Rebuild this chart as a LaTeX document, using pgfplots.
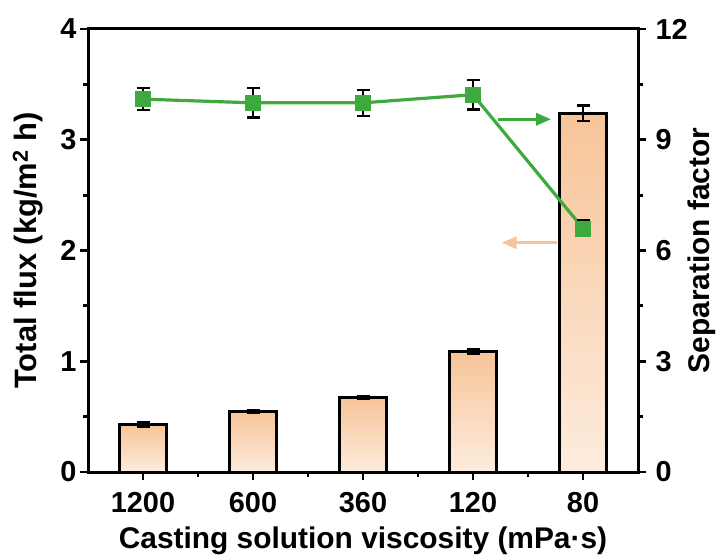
\documentclass[border=0pt]{standalone}
\usepackage{pgfplots}
\pgfplotsset{compat=1.18}
\usetikzlibrary{arrows.meta}
\usepackage{fontspec}
\setmainfont{Liberation Sans}

\definecolor{sgreen}{RGB}{62,170,62}
\definecolor{bartop}{RGB}{247,196,152}
\definecolor{barbot}{RGB}{253,236,222}
\definecolor{arrorange}{RGB}{248,196,156}

\begin{document}
\begin{tikzpicture}
\pgfplotsset{
  every axis/.append style={
    scale only axis, width=550bp, height=443bp,
    xmin=-0.5, xmax=4.5,
    axis line style={line width=3bp},
    tick align=outside,
    major tick length=8bp, minor tick length=5bp,
    every tick/.style={line width=2.8bp, black},
    /pgf/number format/assume math mode=true,
    ticklabel style={font=\bfseries\fontsize{29}{29}\selectfont},
  },
  mybar/.style={ybar, bar width=0.42, bar shift=0pt, draw=black, line width=3bp,
    top color=bartop, bottom color=barbot,
    error bars/.cd, y dir=both, y explicit,
    error bar style={line width=2.4bp, black},
    error mark options={black, rotate=90, mark size=6.5bp, line width=2.4bp}},
}
\begin{axis}[name=ax, at={(0,0)}, anchor=south west,
  ymin=0, ymax=4, ytick={0,1,2,3,4}, minor ytick={0.5,1.5,2.5,3.5},
  xtick={0,1,2,3,4}, xticklabels={1200,600,360,120,80},
  minor xtick={0.5,1.5,2.5,3.5},
  xtick pos=bottom, ytick pos=left,
  xticklabel style={yshift=-9bp},
  ylabel={Total flux (kg/m\textsuperscript{2} h)},
  xlabel={Casting solution viscosity (mPa·s)},
  ylabel style={font=\bfseries\fontsize{31}{31}\selectfont, at={(axis description cs:-0.109,0.5)}, anchor=center},
  xlabel style={font=\bfseries\fontsize{30}{30}\selectfont, at={(axis description cs:0.5,-0.156)}, anchor=center},
]
\addplot[mybar] coordinates {(0,0.43) +- (0,0.02)};
\addplot[mybar] coordinates {(1,0.545) +- (0,0.012)};
\addplot[mybar] coordinates {(2,0.672) +- (0,0.01)};
\addplot[mybar] coordinates {(3,1.09) +- (0,0.02)};
\addplot[mybar] coordinates {(4,3.24) +- (0,0.07)};
\draw[sgreen, line width=3.2bp, -{Triangle[length=15bp,width=12bp]}] (axis cs:3.23,3.185) -- (axis cs:3.71,3.185);
\draw[arrorange, line width=3.2bp, -{Triangle[length=15bp,width=12bp]}] (axis cs:3.76,2.07) -- (axis cs:3.26,2.07);
\end{axis}
\begin{axis}[at={(ax.south west)}, anchor=south west,
  ymin=0, ymax=12, ytick={0,3,6,9,12}, minor ytick={1.5,4.5,7.5,10.5},
  xtick=\empty, ytick pos=right, yticklabel pos=right,
  yticklabel style={xshift=6bp},
  ylabel={Separation factor},
  ylabel style={font=\bfseries\fontsize{30}{30}\selectfont, at={(axis description cs:1.116,0.5)}, anchor=center},
]
\addplot[sgreen, line width=3.2bp, mark=square*, mark size=7.4bp,
  mark options={fill=sgreen, draw=sgreen, line width=0.5bp}]
  coordinates {
  (0,10.1) (1,10.0) (2,10.0) (3,10.22) (4,6.6)
  };
\addplot[draw=none, mark=none,
  error bars/.cd, y dir=both, y explicit,
  error bar style={draw=black, line width=2.4bp},
  error mark options={draw=black, rotate=90, mark size=6.5bp, line width=2.4bp}]
  coordinates {
  (0,10.1) +- (0,0.3)
  (1,10.0) +- (0,0.4)
  (2,10.0) +- (0,0.35)
  (3,10.22) +- (0,0.4)
  (4,6.6) +- (0,0.21)
  };
\end{axis}
\pgfresetboundingbox
\path ([shift={(-88bp,-84bp)}]ax.south west) rectangle ([shift={(82bp,29bp)}]ax.north east);
\end{tikzpicture}
\end{document}
